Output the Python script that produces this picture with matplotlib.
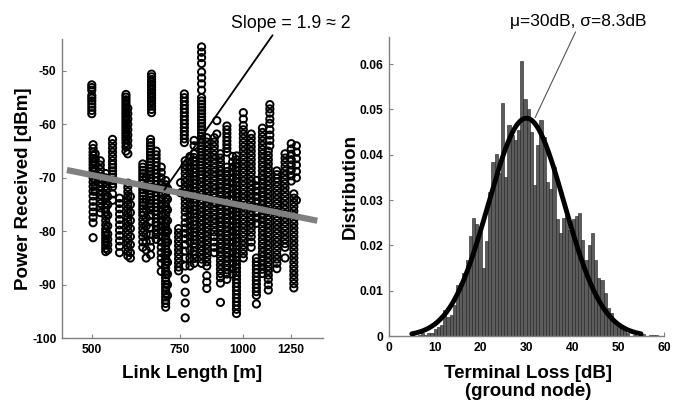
"""
Link budget figure: received power vs. link length (left) and
terminal loss distribution of the ground node (right).
"""
import matplotlib
matplotlib.use('Agg')
import matplotlib.pyplot as plt
from matplotlib.ticker import NullLocator
import numpy as np

plt.rcParams['font.family'] = ['Liberation Sans', 'DejaVu Sans']
plt.rcParams['axes.unicode_minus'] = False
TICK_FONT = dict(family=['Liberation Sans', 'DejaVu Sans'], weight='bold', size=8.7)
LABEL_FONT = dict(fontsize=13.5, fontweight='bold')

# ---------------------------------------------------------------
# Left panel data: measurements grouped by link length [m]
# ---------------------------------------------------------------
strip_lengths = [500, 503, 508, 520, 533, 538, 550, 568, 585, 590,
                 590, 597, 632, 642, 658, 655, 672, 688, 702, 708,
                 745, 752, 765, 768, 785, 800, 828, 848, 878, 888,
                 903, 930, 955, 972, 1003, 1040, 1065, 1095, 1133, 1125,
                 1170, 1215, 1250, 1265, 1280]

strip_power = [
    [-52.6, -53.1, -53.6, -54.6, -55.1, -55.6, -56.2, -56.8, -57.4, -58.0],
    [-63.8, -64.5, -65.2, -65.8, -66.4, -67.0, -67.6, -68.2, -68.8, -69.4, -70.0,
     -70.8, -71.6, -72.5, -73.4, -74.4, -75.4, -76.4, -77.4, -78.4, -81.2],
    [-65.5, -66.5, -67.5, -68.5, -69.5, -70.5, -71.5, -72.5],
    [-66.8, -67.6, -68.4, -69.2, -70.0, -70.8, -71.6, -72.4, -73.2, -74.0, -74.8,
     -75.6, -76.5],
    [-69.2, -70.0, -70.8, -71.6, -72.4, -73.2, -74.0, -74.8, -75.6, -76.4, -77.2,
     -78.0, -78.8, -79.6, -80.2, -80.8, -81.4, -82.0, -82.6, -83.2, -83.8],
    [-70.5, -72.0, -73.5, -75.0, -77.0, -79.0, -80.5, -81.5, -82.5, -83.5],
    [-62.8, -63.6, -64.4, -65.2, -66.0, -66.8, -67.5, -68.1, -68.7, -69.3, -69.9,
     -70.5, -71.1, -71.7, -73.0, -74.2],
    [-73.8, -74.8, -75.8, -76.8, -77.8, -78.8, -79.8, -80.8, -81.8, -82.8, -84.0],
    [-54.4, -54.9, -55.4, -55.9, -56.4, -56.9, -57.4, -57.9, -58.4, -58.9, -59.4,
     -59.9, -60.4, -60.9, -61.4, -61.9, -62.4, -62.9, -63.5, -64.2, -65.0],
    [-57.0, -58.0, -59.0, -60.0, -61.0, -62.0, -63.0, -64.0, -65.5],
    [-71.0, -71.8, -72.6, -73.4, -74.2, -75.0, -75.8, -76.6, -77.4, -78.2, -79.0,
     -79.8, -80.6, -81.4, -82.2, -83.0, -83.8, -84.6],
    [-73.5, -75.0, -76.5, -78.0, -79.5, -81.0, -82.5, -84.0, -85.0],
    [-67.4, -68.0, -68.6, -69.2, -69.8, -70.4, -71.0, -71.6, -72.2, -72.8, -73.4,
     -74.0, -74.6, -75.2, -75.8, -76.4, -77.0, -77.8, -78.6, -79.4, -80.2, -81.0,
     -82.0, -83.0],
    [-70.0, -72.0, -74.0, -76.0, -77.5, -79.0, -80.5, -82.0, -83.5, -85.0],
    [-50.6, -51.1, -51.6, -52.1, -52.6, -53.1, -53.6, -54.1, -54.6, -55.1, -55.6,
     -56.1, -56.6, -57.2, -57.8],
    [-62.8, -63.4, -64.0, -64.6, -65.2, -65.8, -66.4, -67.0, -67.6, -68.2, -68.8,
     -69.4, -70.0, -70.6, -71.2, -71.8, -72.4, -73.0, -73.6, -74.2, -74.8, -75.4,
     -76.0, -77.0, -78.2, -79.4, -80.6, -81.8, -83.0, -84.4],
    [-65.0, -65.7, -66.4, -67.1, -67.8, -68.5, -69.2, -69.9, -70.6, -71.3, -72.0,
     -72.7, -73.4, -74.1, -74.8, -75.5, -76.2, -76.9, -77.6, -78.3, -79.0, -79.8,
     -80.6, -81.5],
    [-68.0, -69.0, -70.0, -71.0, -72.0, -73.0, -74.0, -75.0, -76.0, -77.0, -78.0,
     -79.0, -80.0, -81.0, -82.0, -83.0, -84.0, -85.0, -86.0, -87.5],
    [-70.5, -71.3, -72.1, -72.9, -73.7, -74.5, -75.3, -76.1, -76.9, -77.7, -78.5,
     -79.1, -79.7, -80.3, -80.9, -81.5, -82.1, -82.7, -83.3, -83.9, -84.5, -85.1,
     -85.7, -86.3, -86.9, -87.5, -88.1, -88.7, -89.3, -89.9, -90.5, -91.1, -91.7,
     -92.3, -92.9, -93.5, -94.2],
    [-72.0, -74.0, -76.0, -78.0, -80.0, -82.0, -84.0, -85.8, -88.0, -90.0, -92.0],
    [-79.5, -80.3, -81.1, -81.9, -82.7, -83.5, -84.3, -85.1, -85.9, -86.7, -87.4],
    [-70.9, -72.8],
    [-54.3, -55.0, -55.7, -56.4, -57.1, -57.8, -58.5, -59.2, -59.9, -60.6, -61.3,
     -62.0, -62.7, -63.4],
    [-66.8, -67.6, -68.4, -69.2, -70.0, -70.8, -71.6, -72.4, -73.2, -74.0, -74.8,
     -75.6, -76.4, -77.4, -78.4, -79.4, -80.4, -81.4, -82.5, -83.7, -85.0, -86.5,
     -88.9, -91.4, -93.4, -96.2],
    [-66.0, -67.0, -68.0, -69.0, -70.0, -71.0, -72.0, -73.0, -74.0, -75.0, -76.0,
     -77.0, -78.0, -79.0, -80.0, -81.0, -82.0, -83.5, -85.0, -86.5],
    [-63.0, -64.0, -65.5, -66.2, -66.9, -67.6, -68.3, -69.0, -69.7, -70.4, -71.1,
     -71.8, -72.5, -73.2, -73.9, -74.6, -75.3, -76.0, -76.7, -77.4, -78.1, -78.8,
     -79.5, -80.2, -80.9, -81.6, -82.3, -83.0, -83.7, -84.4, -85.1, -86.0],
    [-45.5, -46.5, -47.5, -48.6, -50.2, -51.3, -52.4, -53.6, -55.0, -55.6, -56.2,
     -56.8, -57.4, -58.0, -58.6, -59.2, -59.8, -60.4, -61.0, -61.6, -62.2, -62.8,
     -63.4, -64.0, -64.6, -65.2, -65.8, -66.4, -67.0, -67.6, -68.2, -68.8, -69.4,
     -70.0, -70.8, -71.6, -72.4, -73.2, -74.0, -74.8, -75.6, -76.4, -77.2, -78.0,
     -78.8, -79.6, -80.4, -81.2, -82.0, -82.8, -83.6, -84.4, -85.2, -86.0],
    [-62.5, -63.3, -64.1, -64.9, -65.7, -66.5, -67.3, -68.1, -68.9, -69.7, -70.5,
     -71.3, -72.1, -72.9, -73.7, -74.5, -75.3, -76.1, -76.9, -77.7, -78.5, -79.3,
     -80.1, -80.9, -81.7, -82.5, -83.3, -84.1, -84.9, -85.7, -86.5, -88.3, -89.5,
     -90.7],
    [-62.5, -63.3, -64.1, -64.9, -65.7, -66.5, -67.3, -68.1, -68.9, -69.7, -70.5,
     -71.3, -72.1, -72.9, -73.7, -74.5, -75.3, -76.1, -76.9, -77.7, -78.5, -79.3,
     -80.1, -81.0, -82.0, -83.0, -84.0],
    [-59.3, -61.8],
    [-65.5, -66.3, -67.1, -67.9, -68.7, -69.5, -70.3, -71.1, -71.9, -72.7, -73.5,
     -74.3, -75.1, -75.9, -76.7, -77.5, -78.3, -79.1, -79.9, -80.7, -81.5, -82.3,
     -83.1, -83.9, -84.7, -85.5, -86.3, -87.1, -87.9, -88.7, -89.7, -93.3],
    [-60.3, -61.0, -61.7, -62.4, -63.1, -63.8, -64.5, -65.2, -68.0, -68.8, -69.6,
     -70.4, -71.2, -72.0, -72.8, -73.6, -74.4, -75.2, -76.0, -76.8, -77.6, -78.4,
     -79.2, -80.0, -80.8, -81.6, -82.4, -83.2, -84.0, -84.8, -85.6, -86.4, -87.2,
     -88.0, -89.0],
    [-66.0, -67.0, -68.0, -69.0, -70.0, -71.0, -72.0, -73.0, -74.0, -75.0, -76.0,
     -77.0, -78.0, -79.0, -80.0, -81.0, -82.0, -83.0, -84.0, -85.0, -86.0, -87.0,
     -88.0],
    [-65.9, -66.6, -67.3, -68.0, -68.7, -69.4, -70.1, -70.8, -71.5, -72.2, -72.9,
     -73.6, -74.3, -75.0, -75.7, -76.4, -77.1, -77.8, -78.5, -79.2, -79.9, -80.6,
     -81.3, -82.0, -82.7, -83.4, -84.1, -84.8, -85.5, -86.2, -86.9, -87.6, -88.3,
     -89.0, -89.7, -90.4, -91.1, -91.8, -92.5, -93.2, -93.9, -94.6, -95.4],
    [-57.8, -59.0, -60.2, -61.0, -61.8, -62.6, -63.4, -64.2, -65.0, -65.8, -66.6,
     -67.4, -68.2, -69.0, -69.8, -70.6, -71.4, -72.2, -73.0, -73.8, -74.6, -75.4,
     -76.2, -77.0, -77.8, -78.6, -79.4, -80.2, -81.0, -81.8, -82.6, -83.4, -84.2,
     -85.0],
    [-61.8, -62.6, -63.4, -64.2, -65.0, -65.8, -66.6, -67.4, -68.2, -69.0, -69.8,
     -70.6, -71.4, -72.2, -73.0, -73.8, -74.6, -75.4, -76.2, -77.0, -77.8, -78.6,
     -79.4, -80.2, -81.0, -82.0, -83.0],
    [-70.5, -71.5, -72.5, -73.5, -74.5, -75.5, -76.5, -77.5, -78.5, -85.0, -85.7,
     -86.4, -87.1, -87.8, -88.5, -89.2, -89.9, -90.6, -91.3, -92.0, -93.6],
    [-60.7, -61.5, -62.3, -63.1, -63.9, -64.7, -65.5, -66.3, -67.1, -67.9, -68.7,
     -69.5, -70.3, -71.1, -71.9, -72.7, -73.5, -74.3, -75.1, -75.9, -76.7, -77.5,
     -78.3, -79.1, -79.9, -80.7, -81.5, -82.3, -83.1, -83.9, -84.7, -85.5, -86.3,
     -87.1, -87.9],
    [-56.3, -57.1, -57.9, -59.0, -59.8, -61.0, -62.0, -63.0, -64.0],
    [-65.0, -65.8, -66.6, -67.4, -68.2, -69.0, -69.8, -70.6, -71.4, -72.2, -73.0,
     -73.8, -74.6, -75.4, -76.2, -77.0, -77.8, -78.6, -79.4, -80.2, -81.0, -81.8,
     -82.6, -83.4, -84.2, -85.0, -85.8, -86.6, -87.4, -88.2, -89.0, -90.0, -91.0],
    [-68.7, -69.4, -70.1, -70.8, -71.6, -72.4, -73.2, -74.0, -74.8, -75.6, -76.4,
     -77.2, -78.0, -78.8, -79.6, -80.4, -81.2, -82.0, -82.8, -83.6, -84.4, -85.2,
     -86.0, -87.0],
    [-65.5, -66.3, -67.1, -67.9, -68.7, -69.5, -70.3, -71.1, -71.9, -72.7, -73.5,
     -74.3, -75.1, -75.9, -76.7, -77.5, -78.3, -79.1, -79.9, -80.7, -81.5, -82.3,
     -83.0, -85.0],
    [-63.6, -64.6, -65.6, -66.6, -67.6, -68.6, -69.6, -70.6],
    [-73.0, -73.8, -74.6, -75.4, -76.2, -77.0, -77.8, -78.6, -79.4, -80.2, -81.0,
     -81.8, -82.6, -83.4, -84.2, -85.0, -85.8, -86.6, -87.4, -88.2, -89.0, -89.8,
     -90.6],
    [-64.0, -65.2, -66.4, -67.6, -68.8, -70.0, -74.2],
]

# log-distance fit: P = intercept + slope * log10(d)
fit_intercept = -18.2
fit_slope = -19.0
fit_range = [446, 1409]

length_ticks = [500, 750, 1000, 1250]
power_ticks = [-100, -90, -80, -70, -60, -50]

# ---------------------------------------------------------------
# Right panel data: terminal loss histogram (normalised)
# ---------------------------------------------------------------
hist_start = 5.2     # centre of first bin [dB]
hist_width = 0.7     # bin width [dB]
hist_heights = [
    0.0004, 0.0, 0.0003, 0.0006, 0.0003, 0.0006, 0.0008, 0.0015,
    0.0020, 0.0025, 0.0058, 0.0043, 0.0047, 0.0069, 0.0113, 0.0117,
    0.0139, 0.0169, 0.0220, 0.0260, 0.0247, 0.0230, 0.0150, 0.0209,
    0.0317, 0.0384, 0.0402, 0.0360, 0.0515, 0.0350, 0.0465, 0.0443,
    0.0432, 0.0454, 0.0606, 0.0524, 0.0502, 0.0450, 0.0333, 0.0421,
    0.0476, 0.0440, 0.0340, 0.0324, 0.0372, 0.0258, 0.0228, 0.0260,
    0.0267, 0.0235, 0.0258, 0.0265, 0.0272, 0.0213, 0.0169, 0.0202,
    0.0228, 0.0169, 0.0128, 0.0124, 0.0095, 0.0061, 0.0050, 0.0028,
    0.0020, 0.0024, 0.0017, 0.0006, 0.0, 0.0003, 0.0, 0.0003,
    0.0004, 0.0, 0.0003, 0.0003, 0.0003,
]
mu, sigma = 30.0, 8.3
fit_span = [5, 55]

loss_ticks = [0, 10, 20, 30, 40, 50, 60]
dist_ticks = [0, 0.01, 0.02, 0.03, 0.04, 0.05, 0.06]


def style_axes(ax):
    """MATLAB-like look: grey left/bottom axes, inward ticks"""
    for side in ['top', 'right']:
        ax.spines[side].set_visible(False)
    for side in ['left', 'bottom']:
        ax.spines[side].set_color('#808080')
        ax.spines[side].set_linewidth(1.0)
    ax.tick_params(direction='in', length=3, color='#808080', pad=4)


fig = plt.figure(figsize=(6.81, 4.05), dpi=100)
ax1 = fig.add_axes([0.091, 0.165, 0.383, 0.739])
ax2 = fig.add_axes([0.571, 0.170, 0.404, 0.739])

# Plot 1: received power scatter
for length, powers in zip(strip_lengths, strip_power):
    ax1.scatter([length] * len(powers), powers, s=27, facecolors='none',
                edgecolors='black', linewidths=1.4, zorder=2)

d = np.array(fit_range, dtype=float)
ax1.plot(d, fit_intercept + fit_slope * np.log10(d), color='#808080', lw=4.5,
         solid_capstyle='butt', zorder=3)

anchor = 698
ax1.annotate('Slope = 1.9 \u2248 2',
             xy=(anchor, fit_intercept + fit_slope * np.log10(anchor)),
             xytext=(1250, -42.8), ha='center', va='bottom', fontsize=12.8,
             annotation_clip=False,
             arrowprops=dict(arrowstyle='-', color='black', lw=1.3,
                             relpos=(0.36, 0.0), shrinkA=0, shrinkB=0))

ax1.set_xscale('log')
ax1.set_xlim(436, 1445)
ax1.set_ylim(-100, -44)
ax1.set_xticks(length_ticks)
ax1.set_xticklabels([str(t) for t in length_ticks], fontdict=TICK_FONT)
ax1.xaxis.set_minor_locator(NullLocator())
ax1.set_yticks(power_ticks)
ax1.set_yticklabels([str(t) for t in power_ticks], fontdict=TICK_FONT)
ax1.text(0.498, -0.117, 'Link Length [m]', transform=ax1.transAxes,
         ha='center', va='center', **LABEL_FONT)
ax1.text(-0.148, 0.5, 'Power Received [dBm]', transform=ax1.transAxes,
         ha='center', va='center', rotation=90, **LABEL_FONT)
style_axes(ax1)

# Plot 2: terminal loss histogram with gaussian fit
centers = hist_start + hist_width * np.arange(len(hist_heights))
ax2.bar(centers, hist_heights, width=hist_width, color='#5c5c5c',
        edgecolor='#1e1e1e', linewidth=0.4, zorder=2)

xs = np.linspace(fit_span[0], fit_span[1], 300)
pdf = np.exp(-0.5 * ((xs - mu) / sigma) ** 2) / (sigma * np.sqrt(2 * np.pi))
ax2.plot(xs, pdf, color='black', lw=3.5, solid_capstyle='round', zorder=3)

ax2.annotate('\u03bc=30dB, \u03c3=8.3dB', xy=(31.9, 0.0482),
             xytext=(41.3, 0.0677), ha='center', va='bottom', fontsize=12.5,
             annotation_clip=False,
             arrowprops=dict(arrowstyle='-', color='#555555', lw=0.8,
                             relpos=(0.49, 0.0), shrinkA=0, shrinkB=0))

ax2.set_xlim(0, 60)
ax2.set_ylim(0, 0.066)
ax2.set_xticks(loss_ticks)
ax2.set_xticklabels([str(t) for t in loss_ticks], fontdict=TICK_FONT)
ax2.set_yticks(dist_ticks)
ax2.set_yticklabels(['0'] + ['%.2f' % t for t in dist_ticks[1:]], fontdict=TICK_FONT)
ax2.text(0.505, -0.156, 'Terminal Loss [dB]\n(ground node)', transform=ax2.transAxes,
         ha='center', va='center', linespacing=1.1, **LABEL_FONT)
ax2.text(-0.142, 0.5, 'Distribution', transform=ax2.transAxes,
         ha='center', va='center', rotation=90, **LABEL_FONT)
style_axes(ax2)

plt.savefig('out.png', dpi=100)
